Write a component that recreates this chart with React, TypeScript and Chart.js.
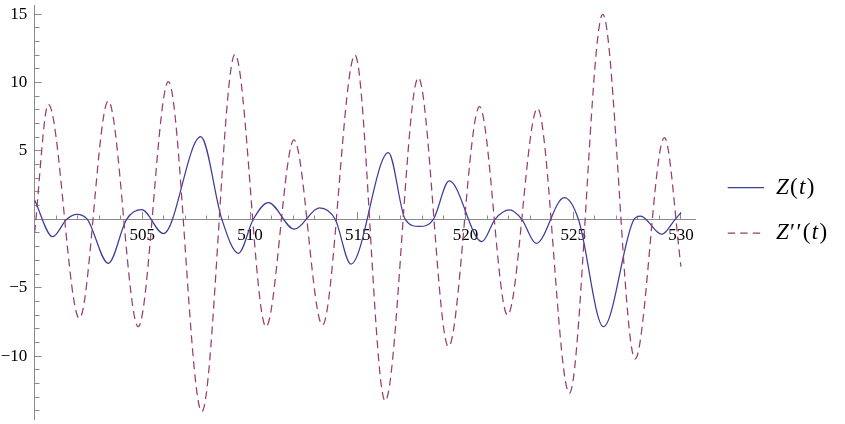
import React, { useEffect, useRef } from 'react';
import { Chart, registerables } from 'chart.js';

Chart.register(...registerables);

// Z(t): extrema (and the zero crossings that are off-centre)
const zT = [
  500.0, 500.84, 501.49, 501.95, 502.45, 503.42, 504.27, 504.97, 505.98, 507.71,
  508.69, 509.46, 510.15, 510.85, 512.05, 513.22, 513.95, 514.68, 516.42, 517.2,
  517.85, 518.51, 519.24, 520.76, 521.37, 522.04, 522.61, 523.28, 524.58, 525.24,
  526.4, 527.82, 528.12, 529.11, 529.73, 530.0,
];
const zV = [
  1.41, -1.27, 0, 0.36, 0, -3.22, 0, 0.7, -1.05, 6.04,
  0, -2.49, 0, 1.22, -0.72, 0.83, 0, -3.27, 4.87, 0,
  -0.52, 0, 2.8, -1.63, 0, 0.68, 0, -1.76, 1.58, 0,
  -7.85, 0, 0.24, -1.1, 0, 0.48,
];

// Z''(t): end points and extrema
const zppT = [
  500.0, 500.64, 502.08, 503.42, 504.81, 506.21, 507.76, 509.3, 510.74, 512.04,
  513.36, 514.87, 516.27, 517.81, 519.21, 520.65, 521.95, 523.34, 524.82, 526.37,
  527.87, 529.23, 530.0,
];
const zppV = [
  -1.0, 8.41, -7.24, 8.65, -7.85, 10.06, -14.06, 12.06, -7.85, 5.8,
  -7.73, 12.01, -13.28, 10.35, -9.31, 8.23, -7.0, 8.11, -12.72, 14.98,
  -10.21, 5.97, -3.46,
];

const xMajorTicks = [505, 510, 515, 520, 525, 530];
const xMinorTicks = [
  501, 502, 503, 504, 505, 506, 507, 508, 509, 510, 511, 512, 513, 514, 515,
  516, 517, 518, 519, 520, 521, 522, 523, 524, 525, 526, 527, 528, 529, 530,
];
const yMajorTicks = [-10, -5, 5, 10, 15];
const yMinorTicks = [
  -14, -13, -12, -11, -10, -9, -8, -7, -6, -5, -4, -3, -2, -1,
  1, 2, 3, 4, 5, 6, 7, 8, 9, 10, 11, 12, 13, 14, 15,
];

const seriesLabels = ['Z(t)', "Z''(t)"];

const BLUE = 'rgb(61,61,153)';
const PURPLE = 'rgb(153,61,113)';
const AXIS = '#8a8a8a';
const FONT = { family: '"Liberation Serif", "Times New Roman", serif', size: 17 };

const zeroPad = (s: any) => {
  s.paddingTop = 0;
  s.paddingBottom = 0;
  s.paddingLeft = 0;
  s.paddingRight = 0;
};

const fmt = (v: number) => (v < 0 ? '\u2212' + Math.abs(v) : String(v));

export default function App() {
  const ref = useRef<HTMLCanvasElement>(null);

  useEffect(() => {
    const chart = new Chart(ref.current as HTMLCanvasElement, {
      type: 'line',
      data: {
        datasets: [
          {
            label: seriesLabels[0],
            data: zT.map((t, i) => ({ x: t, y: zV[i] })),
            borderColor: BLUE,
            borderWidth: 1.25,
            pointRadius: 0,
            cubicInterpolationMode: 'monotone',
            order: 2,
          },
          {
            label: seriesLabels[1],
            data: zppT.map((t, i) => ({ x: t, y: zppV[i] })),
            borderColor: PURPLE,
            borderWidth: 1.25,
            borderDash: [8, 5],
            pointRadius: 0,
            cubicInterpolationMode: 'monotone',
            order: 1,
          },
        ],
      },
      options: {
        animation: false,
        responsive: false,
        events: [],
        layout: { padding: { left: 0, top: 5.9, right: 150, bottom: 4.3 } },
        plugins: { legend: { display: false }, tooltip: { enabled: false } },
        scales: {
          x: {
            type: 'linear',
            axis: 'x',
            position: { y: 0 },
            min: 500,
            max: 530.65,
            afterBuildTicks: (s: any) => {
              s.ticks = xMajorTicks.map((v) => ({ value: v }));
            },
            afterFit: zeroPad,
            grid: { drawOnChartArea: false, drawTicks: true, tickLength: -7, color: AXIS, lineWidth: 1 },
            border: { display: false },
            ticks: {
              autoSkip: false,
              maxRotation: 0,
              padding: 13,
              font: FONT,
              color: '#000',
              callback: (v: any) => fmt(Number(v)),
            },
          },
          xMinor: {
            type: 'linear',
            axis: 'x',
            position: { y: 0 },
            min: 500,
            max: 530.65,
            afterBuildTicks: (s: any) => {
              s.ticks = xMinorTicks.map((v) => ({ value: v }));
            },
            afterFit: zeroPad,
            grid: { drawOnChartArea: false, drawTicks: true, tickLength: -4.5, color: AXIS, lineWidth: 1 },
            border: { display: true, color: AXIS, width: 1 },
            ticks: { display: false },
          },
          y: {
            type: 'linear',
            axis: 'y',
            position: 'left',
            min: -14.65,
            max: 15.6,
            afterBuildTicks: (s: any) => {
              s.ticks = yMajorTicks.map((v) => ({ value: v }));
            },
            afterFit: (s: any) => {
              zeroPad(s);
              s.width = 34.6;
            },
            grid: { drawOnChartArea: false, drawTicks: true, tickLength: -7, color: AXIS, lineWidth: 1 },
            border: { display: true, color: AXIS, width: 1 },
            ticks: {
              autoSkip: false,
              padding: 14.3,
              font: FONT,
              color: '#000',
              callback: (v: any) => fmt(Number(v)),
            },
          },
          yMinor: {
            type: 'linear',
            axis: 'y',
            position: { x: 500 },
            min: -14.65,
            max: 15.6,
            afterBuildTicks: (s: any) => {
              s.ticks = yMinorTicks.map((v) => ({ value: v }));
            },
            afterFit: zeroPad,
            grid: { drawOnChartArea: false, drawTicks: true, tickLength: -4.5, color: AXIS, lineWidth: 1 },
            border: { display: false },
            ticks: { display: false },
          },
        },
      },
    } as any);
    return () => chart.destroy();
  }, []);

  const legendText: React.CSSProperties = {
    position: 'absolute',
    fontFamily: '"Liberation Serif", "Times New Roman", serif',
    fontSize: 23,
    letterSpacing: 1.3,
    lineHeight: '26px',
    color: '#000',
    whiteSpace: 'nowrap',
  };

  return (
    <div style={{ position: 'absolute', left: 0, top: 0, width: 845, height: 424, background: '#fff' }}>
      <canvas ref={ref} width={845} height={424} style={{ width: 845, height: 424, display: 'block' }} />
      <svg style={{ position: 'absolute', left: 0, top: 0 }} width={845} height={424}>
        <line x1={727.7} y1={187.7} x2={764} y2={187.7} stroke={BLUE} strokeWidth={1.25} />
        <line x1={727.7} y1={233} x2={764} y2={233} stroke={PURPLE} strokeWidth={1.25} strokeDasharray="7.5 5" />
      </svg>
      <div style={{ ...legendText, left: 776, top: 187.7 - 14 }}>
        <i>Z</i>(<i>t</i>)
      </div>
      <div style={{ ...legendText, left: 776, top: 233 - 14 }}>
        <i>Z</i>{'\u2032\u2032'}(<i>t</i>)
      </div>
    </div>
  );
}
